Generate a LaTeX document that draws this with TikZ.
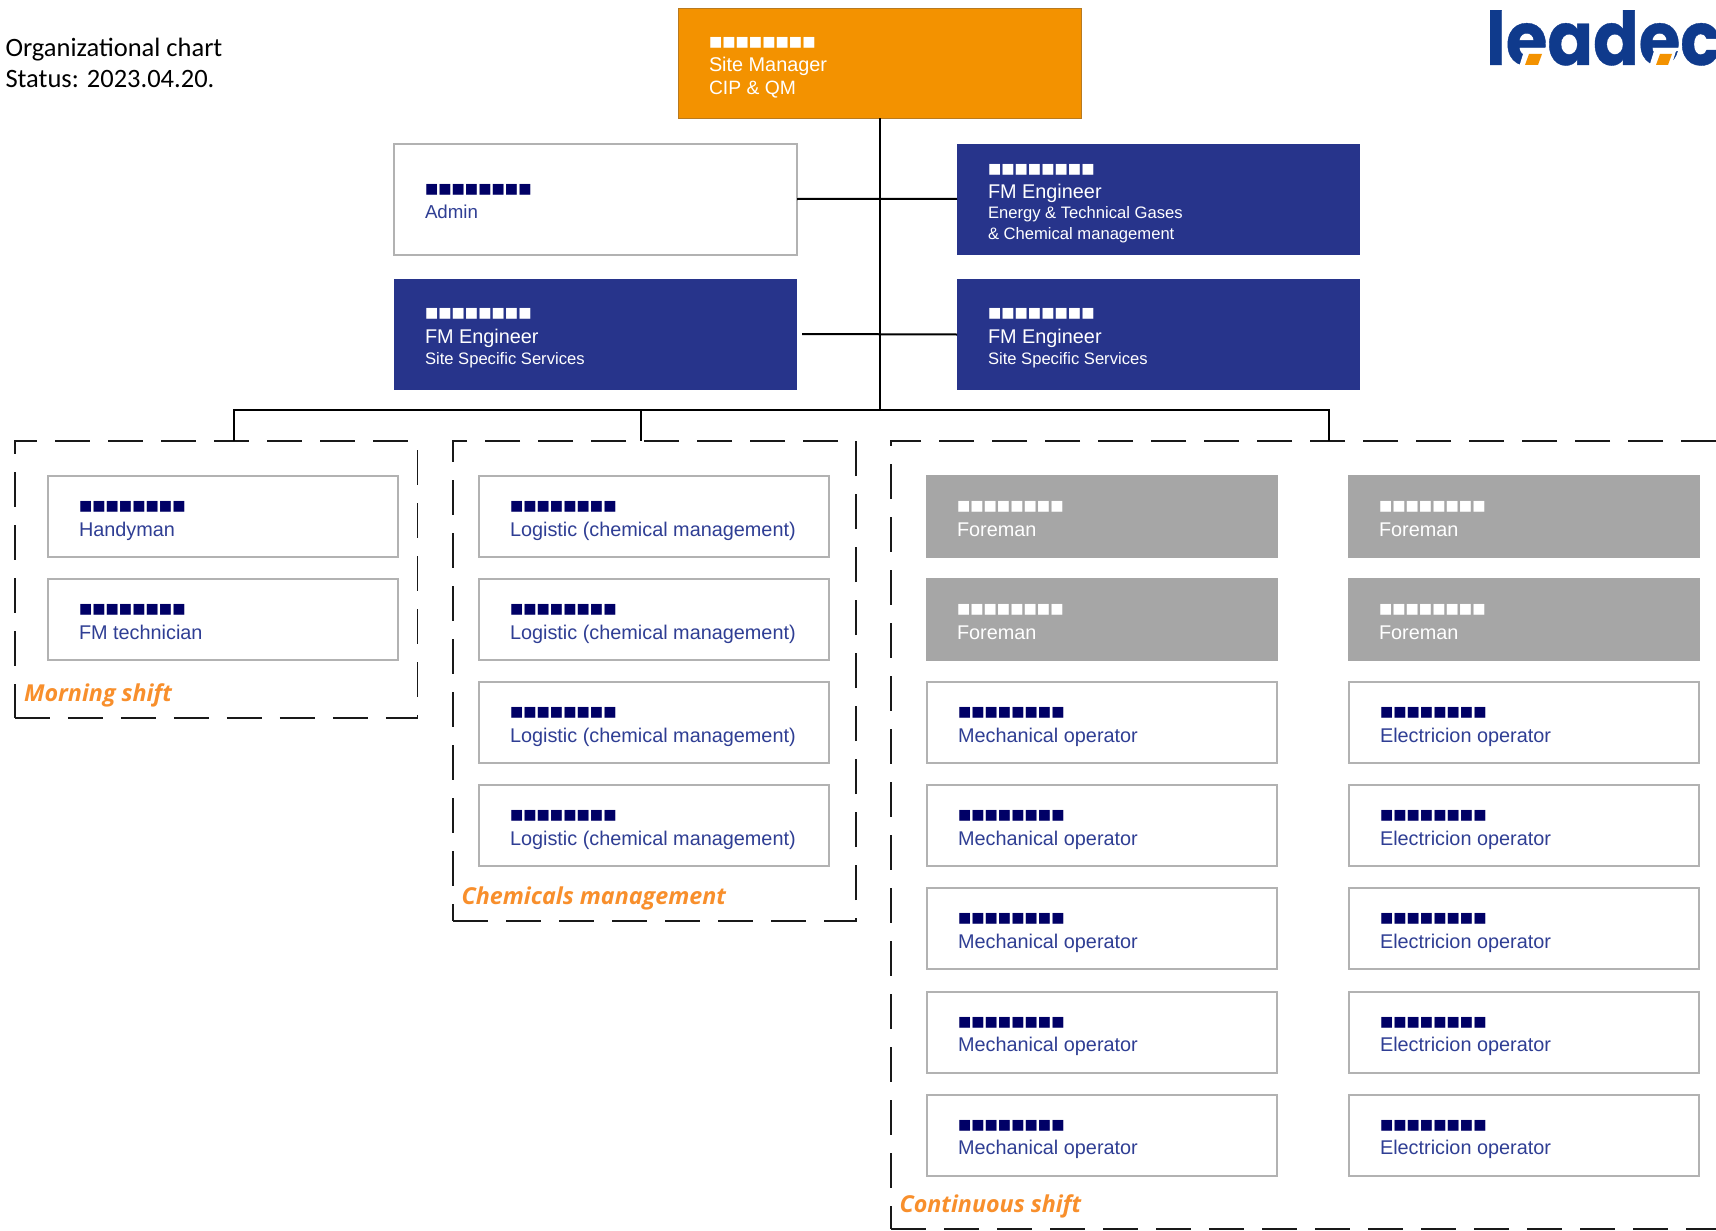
\documentclass[tikz,border=0pt]{standalone}
\usepackage{fontspec}
\setmainfont{Liberation Sans}
\newfontfamily\chartfont{Carlito}
\newfontfamily\groupfont{Open Sans}
\newfontfamily\logofont[FakeStretch=0.91,BoldFeatures={FakeBold=0.5,FakeStretch=0.91}]{Poppins}
\newfontfamily\blockfont{DejaVu Sans}
\definecolor{navyfill}{HTML}{27348B}
\definecolor{orangefill}{HTML}{F39200}
\definecolor{orangeedge}{HTML}{B87A20}
\definecolor{greyfill}{HTML}{A6A6A6}
\definecolor{cardedge}{HTML}{B2B2B2}
\definecolor{bluetext}{HTML}{2F3E94}
\definecolor{blockblue}{HTML}{000066}
\definecolor{grouporange}{HTML}{F88F2C}
\definecolor{logoblue}{HTML}{0F3A8C}
\newcommand\blocks{{\blockfont\fontsize{14.1}{16}\selectfont ■■■■■■■■}}
\newcommand\mainsize{\fontsize{19.85}{22}\selectfont}
\newcommand\subsize{\fontsize{16.6}{20}\selectfont}
% name, left, top, width, height, style
\newcommand\card[6]{\node[#6,minimum width=#4,minimum height=#5] (#1) at (#2+#4/2,#3+#5/2) {};}
% name, text colour, line-baseline offset, text
\newcommand\cardline[4]{\node[txt,text=#2] (#1-#3) at ($(#1.north west)+(\textinset,#3)$) {#4};}
\newcommand\textinset{31}
\tikzset{
  x=1pt,y=-1pt,
  txt/.style={anchor=base west,inner sep=0pt,outer sep=0pt},
  whitecard/.style={draw=cardedge,fill=white,line width=2pt,inner sep=0pt,outer sep=0pt},
  navycard/.style={fill=navyfill,inner sep=0pt,outer sep=0pt},
  greycard/.style={fill=greyfill,inner sep=0pt,outer sep=0pt},
  sitecard/.style={fill=orangefill,draw=orangeedge,line width=1pt,inner sep=0pt,outer sep=0pt},
  grouparea/.style={inner sep=0pt,outer sep=0pt},
  groupedge/.style={draw=black!90,line width=1.7pt,dash pattern=on 35pt off 18pt},
  link/.style={draw=black,line width=2pt},
  grouplabel/.style={txt,text=grouporange,font=\groupfont\bfseries\itshape\fontsize{23.3}{26}\selectfont},
  charttitle/.style={txt,text=black,font=\chartfont\fontsize{26.5}{30}\selectfont},
}
\usetikzlibrary{calc}
\begin{document}
\begin{tikzpicture}
\useasboundingbox (0,0) rectangle (1716,1231);
\clip (0,0) rectangle (1716,1231);
\fill[white] (0,0) rectangle (1716,1231);

% group areas
\node[grouparea,minimum width=402.5,minimum height=277] (morning) at (216.2,579.5) {};
\node[grouparea,minimum width=403,minimum height=480] (chem) at (654.5,681) {};
\node[grouparea,minimum width=840,minimum height=788] (cont) at (1311,835) {};
\foreach \g in {morning,chem,cont}
  \draw[groupedge] (\g.south west) -- (\g.south east) -- (\g.north east) -- (\g.north west) -- cycle;

% top cards
\card{site}{678}{9}{403}{109}{sitecard}
\cardline{site}{white}{37.5}{\blocks}
\cardline{site}{white}{63}{\mainsize Site Manager}
\cardline{site}{white}{85}{\fontsize{19.3}{22}\selectfont CIP \& QM}

\card{admin}{394}{144}{403}{111}{whitecard}
\cardline{admin}{blockblue}{49.5}{\blocks}
\cardline{admin}{bluetext}{74}{\fontsize{18.7}{22}\selectfont Admin}

\card{energy}{957}{144}{403}{110.5}{navycard}
\cardline{energy}{white}{29}{\blocks}
\cardline{energy}{white}{54}{\mainsize FM Engineer}
\cardline{energy}{white}{74}{\subsize Energy \& Technical Gases}
\cardline{energy}{white}{95}{\subsize \& Chemical management}

\card{siteleft}{394}{279}{403}{111}{navycard}
\cardline{siteleft}{white}{38.5}{\blocks}
\cardline{siteleft}{white}{64}{\mainsize FM Engineer}
\cardline{siteleft}{white}{85}{\subsize Site Specific Services}

\card{siteright}{957}{279}{403}{111}{navycard}
\cardline{siteright}{white}{38.5}{\blocks}
\cardline{siteright}{white}{64}{\mainsize FM Engineer}
\cardline{siteright}{white}{85}{\subsize Site Specific Services}

% morning shift
\card{handy}{48}{476}{350}{81}{whitecard}
\cardline{handy}{blockblue}{34.5}{\blocks}
\cardline{handy}{bluetext}{60}{\mainsize Handyman}
\card{tech}{48}{579}{350}{81}{whitecard}
\cardline{tech}{blockblue}{34.5}{\blocks}
\cardline{tech}{bluetext}{60}{\mainsize FM technician}
\node[grouplabel] (morninglabel) at (24,701) {Morning shift};

% chemicals
\foreach \n/\t in {1/476,2/579,3/682,4/785}{
  \card{logi\n}{479}{\t}{350}{81}{whitecard}
  \cardline{logi\n}{blockblue}{34.5}{\blocks}
  \cardline{logi\n}{bluetext}{60}{\mainsize Logistic (chemical management)}
}
\node[grouplabel] (chemlabel) at (461.5,904) {Chemicals management};

% continuous
\foreach \n/\t in {1/475,2/578}{
  \card{fa\n}{926}{\t}{352}{83}{greycard}
  \cardline{fa\n}{white}{35.5}{\blocks}
  \cardline{fa\n}{white}{61}{\mainsize Foreman}
  \card{fb\n}{1348}{\t}{352}{83}{greycard}
  \cardline{fb\n}{white}{35.5}{\blocks}
  \cardline{fb\n}{white}{61}{\mainsize Foreman}
}
\foreach \n/\t in {1/682,2/785,3/888,4/991.5,5/1094.5}{
  \card{mech\n}{927}{\t}{350}{81}{whitecard}
  \cardline{mech\n}{blockblue}{34.5}{\blocks}
  \cardline{mech\n}{bluetext}{60}{\mainsize Mechanical operator}
  \card{elec\n}{1349}{\t}{350}{81}{whitecard}
  \cardline{elec\n}{blockblue}{34.5}{\blocks}
  \cardline{elec\n}{bluetext}{60}{\mainsize Electricion operator}
}
\node[grouplabel] (contlabel) at (899.5,1212) {Continuous shift};

% connectors
\coordinate (spine) at (880,410);
\coordinate (dropa) at (234,410);
\coordinate (dropb) at (640.5,410);
\coordinate (dropc) at (1329,410);
\coordinate (stub) at (802,334);
\draw[link] (site.south -| spine) -- (spine);
\draw[link] ([yshift=.5pt]admin.east) -- ([yshift=.5pt]energy.west);
\draw[link] (stub) -- (siteright.west);
\draw[link] (morning.north -| dropa) -- (dropa) -- (dropc) -- (cont.north -| dropc);
\draw[link] (dropb) -- (chem.north -| dropb);

% title
\node[charttitle] (title1) at (5.5,57) {Organizational chart};
\node[charttitle] (title2) at (5.5,88) {Status: 2023.04.20.};

% logo
\node[txt,text=logoblue,font=\logofont\bfseries\fontsize{74}{80}\selectfont] (logo) at (1486,65) {leadec};
\fill[white] (1524,51) -- (1546,51) -- (1541,67) -- (1519,67) -- cycle;
\fill[white] (1654,51) -- (1676,51) -- (1671,67) -- (1649,67) -- cycle;
\fill[orangefill] (1529,54) -- (1542,54) -- (1538,65) -- (1525,65) -- cycle;
\fill[orangefill] (1660,54) -- (1672,54) -- (1668,65) -- (1656,65) -- cycle;
\end{tikzpicture}
\end{document}
